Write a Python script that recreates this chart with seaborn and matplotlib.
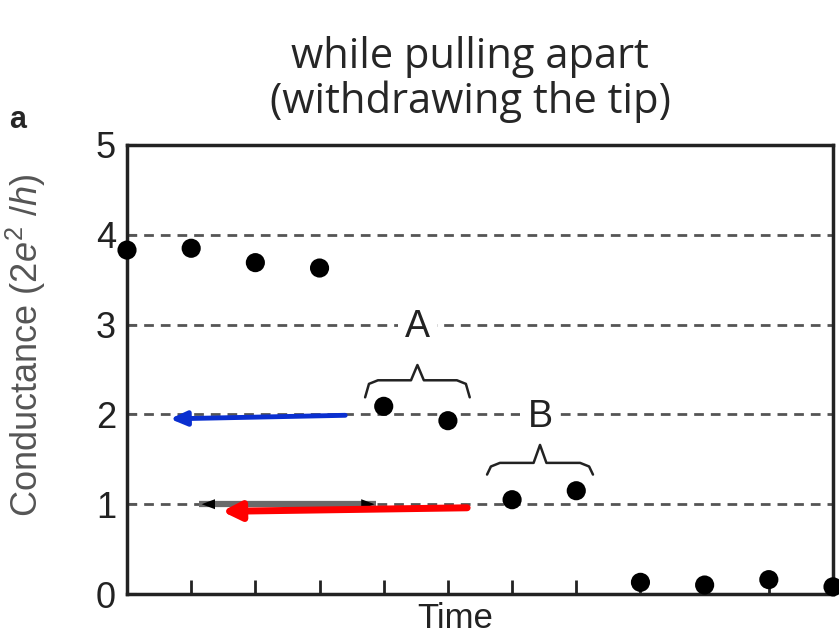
import matplotlib
matplotlib.use("Agg")
import matplotlib.pyplot as plt
import seaborn as sns
import numpy as np
import pandas as pd

# ---- data ----
time_idx = [0, 1, 2, 3, 4, 5, 6, 7, 8, 9, 10, 11]
conductance = [3.83, 3.85, 3.69, 3.63, 2.09, 1.93, 1.05, 1.15, 0.13, 0.10, 0.16, 0.08]
y_ticks = [0, 1, 2, 3, 4, 5]
x_ticks = [1, 2, 3, 4, 5, 6, 7, 8, 9, 10]
grid_levels = [1, 2, 3, 4]
title_lines = ["while pulling apart", "(withdrawing the tip)"]
brace_labels = ["A", "B"]

df = pd.DataFrame({"Time": time_idx, "Conductance": conductance})

sns.set_theme(style="white")
plt.rcParams['font.family'] = ['Liberation Sans', 'DejaVu Sans']
plt.rcParams['mathtext.fontset'] = 'custom'
plt.rcParams['mathtext.rm'] = 'Liberation Sans'
plt.rcParams['mathtext.it'] = 'Liberation Sans:italic'

fig = plt.figure(figsize=(8.39, 6.34), dpi=100)
ax = fig.add_axes([127/839, 1-594/634, 706/839, 449/634])

ax.set_xlim(0, 11)
ax.set_ylim(0, 5)

for lv in grid_levels:
    ax.axhline(lv, color="#555555", lw=2, ls=(0, (3.5, 2.5)), zorder=1)

sns.scatterplot(data=df, x="Time", y="Conductance", ax=ax, color="black",
                s=190, edgecolor="none", clip_on=False, zorder=6, legend=False)

# double-headed gray arrow at level 1
ax.plot([1.12, 3.88], [1.0, 1.0], color="#6a6a6a", lw=4.5, zorder=2, solid_capstyle="butt")
ax.annotate("", xy=(1.12, 1.0), xytext=(1.5, 1.0),
            arrowprops=dict(arrowstyle="-|>,head_length=0.8,head_width=0.3", color="black", lw=0), zorder=3)
ax.annotate("", xy=(3.9, 1.0), xytext=(3.5, 1.0),
            arrowprops=dict(arrowstyle="-|>,head_length=0.8,head_width=0.3", color="black", lw=0), zorder=3)

# blue arrow
ax.annotate("", xy=(0.67, 1.95), xytext=(3.40, 1.99),
            arrowprops=dict(arrowstyle="-|>,head_length=0.8,head_width=0.35",
                            color="#0a2fd0", lw=3.5, shrinkA=0, shrinkB=0), zorder=4)
# red arrow
ax.annotate("", xy=(1.48, 0.92), xytext=(5.30, 0.96),
            arrowprops=dict(arrowstyle="-|>,head_length=0.9,head_width=0.45",
                            color="#ff0000", lw=5, shrinkA=0, shrinkB=0), zorder=4)

# braces
def brace(x0, x1, ybase, ybar, ytip):
    xm = (x0 + x1) / 2
    xs = [x0, x0 + 0.06, x0 + 0.2, xm - 0.1, xm, xm + 0.1, x1 - 0.2, x1 - 0.06, x1]
    ys = [ybase, ybar - 0.04, ybar, ybar, ytip, ybar, ybar, ybar - 0.04, ybase]
    ax.plot(xs, ys, color="#222222", lw=1.8, zorder=5, solid_joinstyle="round")
    return xm

xa = brace(3.71, 5.34, 2.19, 2.38, 2.55)
xb = brace(5.61, 7.26, 1.33, 1.46, 1.66)
ax.text(xa, 2.97, brace_labels[0], ha="center", va="center", fontsize=27, color="#222222",
        zorder=3, bbox=dict(facecolor="white", edgecolor="none", pad=5))
ax.text(xb, 1.97, brace_labels[1], ha="center", va="center", fontsize=27, color="#222222",
        zorder=3, bbox=dict(facecolor="white", edgecolor="none", pad=5))

# axes styling
ax.set_xticks(x_ticks)
ax.set_xticklabels([])
ax.set_yticks(y_ticks)
ax.set_yticklabels([str(v) for v in y_ticks], fontsize=26, color="#222222")
ax.tick_params(axis="x", direction="in", length=10, width=2, color="#222222", bottom=True)
ax.tick_params(axis="y", direction="in", length=7, width=1.5, color="#777777", left=True, pad=8)
for sp in ax.spines.values():
    sp.set_color("#222222")
    sp.set_linewidth(2.5)
ax.set_xlabel("Time", fontsize=25, color="#222222")
ax.xaxis.set_label_coords((455-127)/706, -8/449)
ax.set_ylabel("Conductance (2$e^2$ /$h$)", fontsize=26, color="#555555")
ax.yaxis.set_label_coords(-(127-48)/706, 0.555)

fig.text(18/839, 1-120/634, "a", fontsize=22, fontweight="bold", ha="center", va="center",
         family=["Liberation Sans", "DejaVu Sans"])
fig.text(470/839, 1-57/634, title_lines[0], fontsize=30, ha="center", va="center",
         family=["Open Sans", "DejaVu Sans"])
fig.text(470/839, 1-102/634, title_lines[1], fontsize=30, ha="center", va="center",
         family=["Open Sans", "DejaVu Sans"])

fig.savefig("out.png", dpi=100)
